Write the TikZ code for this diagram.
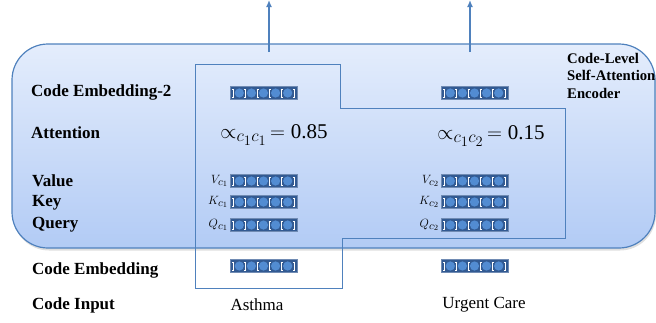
\documentclass[tikz,border=0pt]{standalone}
\usepackage{fontspec}
\setmainfont{Liberation Serif}
\usetikzlibrary{shadows,arrows.meta}
\definecolor{boxline}{RGB}{79,129,189}
\definecolor{boxtop}{RGB}{228,237,252}
\definecolor{boxbot}{RGB}{178,203,245}
\definecolor{barblue}{RGB}{50,90,146}
\definecolor{dotblue}{RGB}{82,140,210}
\tikzstyle{every node}=[inner sep=0pt]
\tikzstyle{rowlabel}=[anchor=west,font=\fontsize{17}{20}\selectfont\bfseries]
\tikzstyle{wordlabel}=[font=\fontsize{17}{20}\selectfont]
\tikzstyle{attlabel}=[font=\fontsize{21}{24}\selectfont]
\tikzstyle{veclabel}=[anchor=east,font=\fontsize{13}{15}\selectfont]
\tikzstyle{embbar}=[rectangle,draw=barblue!70!white,fill=barblue,line width=0.6pt,
    minimum width=67pt,minimum height=13pt,
    path picture={
        \foreach \x in {-24.2,-12.1,0,12.1,24.2}
            \fill[dotblue] (path picture bounding box.center) ++(\x pt,0pt) circle (4.6pt);
        \foreach \s in {-30.5,-18.2,-6,6,18.2,30.5}
            \draw[white,line width=0.5pt] (path picture bounding box.center)
                ++(\s pt,0pt) ++(-1pt,4pt) -- ++(2pt,0pt) ++(-1pt,0pt) -- ++(0pt,-8pt)
                ++(-1pt,0pt) -- ++(2pt,0pt);
    }]
\newcommand{\subsz}[1]{\mbox{\fontsize{19}{19}\selectfont$#1$}}
\newcommand{\vsubsz}[1]{\mbox{\fontsize{11}{11}\selectfont$#1$}}

\begin{document}
\begin{tikzpicture}[x=1pt,y=-1pt]
    \useasboundingbox (0,0) rectangle (656,322);
    \clip (0,0) rectangle (656,322);
    \path[draw=boxline,line width=1.2pt,rounded corners=36pt,top color=boxtop,bottom color=boxbot,
        drop shadow={opacity=0.25,shadow xshift=1pt,shadow yshift=-2.5pt}]
        (12,44) rectangle (655,248);
    \draw[boxline,line width=0.8pt]
        (195,64) -- (340,64) -- (340,108) -- (565,108) -- (565,238)
        -- (342,238) -- (342,288) -- (195,288) -- cycle;

    \node[rowlabel] (lemb2) at (31,92) {Code Embedding-2};
    \node[rowlabel] (latt) at (31,133) {Attention};
    \node[rowlabel] (lval) at (32,181) {Value};
    \node[rowlabel] (lkey) at (32,203) {Key};
    \node[rowlabel] (lqry) at (32,225) {Query};
    \node[rowlabel] (lemb) at (32,270) {Code Embedding};
    \node[rowlabel] (linp) at (32,305) {Code Input};
    \node[anchor=north west,align=left,font=\fontsize{14.7}{17.5}\selectfont\bfseries]
        (enc) at (567,53) {Code-Level\\Self-Attention\\Encoder};

    \node[embbar] (embtwoa) at (263.5,93) {};
    \node[embbar] (embtwob) at (474.5,93) {};
    \node[attlabel] (atta) at (274,135) {$\propto_{\subsz{c_1c_1}}\,=\mbox{0.85}$};
    \node[attlabel] (attb) at (491,136) {$\propto_{\subsz{c_1c_2}}\,=\mbox{0.15}$};
    \node[embbar] (vala) at (263.5,181) {};
    \node[embbar] (valb) at (474.5,181) {};
    \node[embbar] (keya) at (263.5,202) {};
    \node[embbar] (keyb) at (474.5,202) {};
    \node[embbar] (qrya) at (263.5,225) {};
    \node[embbar] (qryb) at (474.5,225) {};
    \node[embbar] (emba) at (263.5,266) {};
    \node[embbar] (embb) at (474.5,266) {};
    \node[veclabel] at ([xshift=-1.5pt]vala.west) {$V_{\vsubsz{c_1}}$};
    \node[veclabel] at ([xshift=-1.5pt]keya.west) {$K_{\vsubsz{c_1}}$};
    \node[veclabel] at ([xshift=-1.5pt]qrya.west) {$Q_{\vsubsz{c_1}}$};
    \node[veclabel] at ([xshift=-1.5pt]valb.west) {$V_{\vsubsz{c_2}}$};
    \node[veclabel] at ([xshift=-1.5pt]keyb.west) {$K_{\vsubsz{c_2}}$};
    \node[veclabel] at ([xshift=-1.5pt]qryb.west) {$Q_{\vsubsz{c_2}}$};
    \node[wordlabel] (asthma) at (257,305) {Asthma};
    \node[wordlabel] (urgent) at (484,305) {Urgent Care};

    \coordinate (basea) at (269,52);
    \coordinate (outa) at (269,0);
    \coordinate (baseb) at (470,52);
    \coordinate (outb) at (470,0);
    \draw[boxline,line width=1.3pt,-{Latex[width=6pt,length=7pt]}] (basea) -- (outa);
    \draw[boxline,line width=1.3pt,-{Latex[width=6pt,length=7pt]}] (baseb) -- (outb);
\end{tikzpicture}
\end{document}
